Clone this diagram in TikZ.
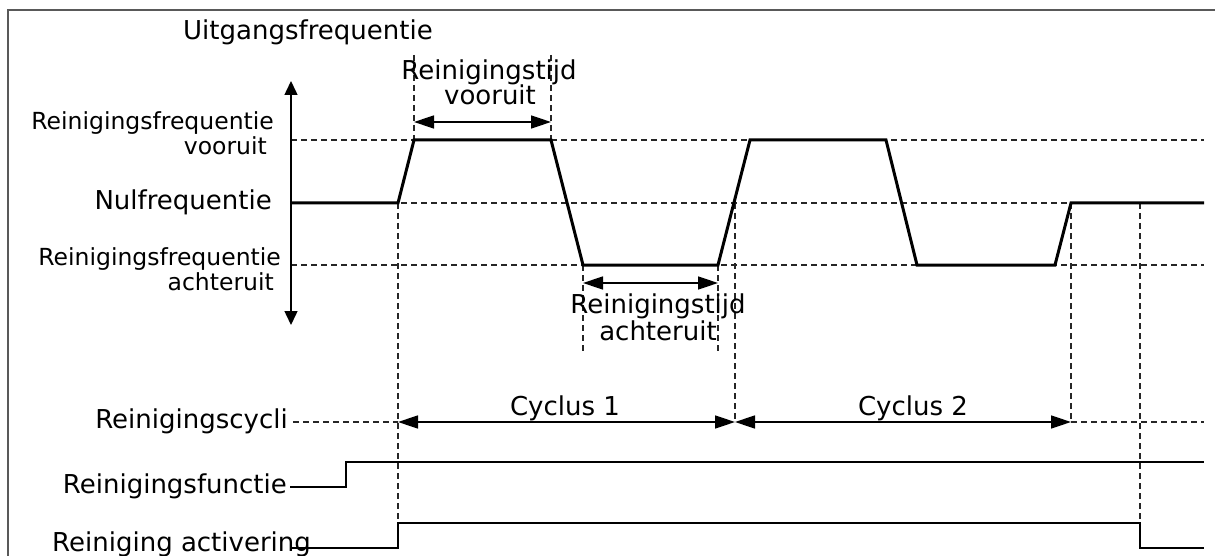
\documentclass[tikz,border=0pt]{standalone}
\usepackage{fontspec}
\setmainfont{DejaVu Sans}
\usetikzlibrary{arrows.meta}
\begin{document}
\begin{tikzpicture}[x=1pt,y=-1pt,
  sig/.style={line width=3pt, line join=miter},
  lvl/.style={line width=2.6pt, line join=miter},
  guide/.style={line width=1.3pt, dash pattern=on 6pt off 4pt, black!85},
  dimarrow/.style={line width=1.5pt, {Triangle[length=20pt,width=13pt]}-{Triangle[length=20pt,width=13pt]}},
  axisarrow/.style={line width=1.5pt, {Triangle[length=14pt,width=13pt]}-{Triangle[length=14pt,width=13pt]}},
  lbl/.style={inner sep=0pt, font=\fontsize{26}{27}\selectfont},
  slbl/.style={inner sep=0pt, font=\fontsize{23.5}{25}\selectfont},
]
\useasboundingbox (0,0) rectangle (1215,556);
\fill[white] (0,0) rectangle (1215,556);
% frame
\coordinate (fbl) at (8,580);
\coordinate (ftl) at (8,10);
\coordinate (ftr) at (1240,10);
\draw[line width=2pt, black!65] (fbl) -- (ftl) -- (ftr);

% signal points
\coordinate (s0) at (291,203);
\coordinate (s1) at (398,203);
\coordinate (s2) at (414,140);
\coordinate (s3) at (551,140);
\coordinate (s4) at (583,265);
\coordinate (s5) at (718,265);
\coordinate (s6) at (750,140);
\coordinate (s7) at (886,140);
\coordinate (s8) at (917,265);
\coordinate (s9) at (1055,265);
\coordinate (s10) at (1071,203);
\coordinate (s11) at (1204,203);

% horizontal guides
\coordinate (hv0) at (291,140); \coordinate (hv1) at (1204,140);
\coordinate (hz0) at (291,203); \coordinate (hz1) at (1204,203);
\coordinate (ha0) at (291,265); \coordinate (ha1) at (1204,265);
\draw[guide] (hv0) -- (hv1);
\draw[guide] (hz0) -- (hz1);
\draw[guide] (ha0) -- (ha1);

% vertical guides
\coordinate (v1a) at (398,203);  \coordinate (v1b) at (398,523);
\coordinate (v2a) at (414,55);   \coordinate (v2b) at (414,140);
\coordinate (v3a) at (551,55);   \coordinate (v3b) at (551,140);
\coordinate (v4a) at (583,265);  \coordinate (v4b) at (583,352);
\coordinate (v5a) at (718,265);  \coordinate (v5b) at (718,352);
\coordinate (v6a) at (735,203);  \coordinate (v6b) at (735,422);
\coordinate (v7a) at (1071,203); \coordinate (v7b) at (1071,422);
\coordinate (v8a) at (1140,203); \coordinate (v8b) at (1140,523);
\draw[guide] (v1a) -- (v1b);
\draw[guide] (v2a) -- (v2b);
\draw[guide] (v3a) -- (v3b);
\draw[guide] (v4a) -- (v4b);
\draw[guide] (v5a) -- (v5b);
\draw[guide] (v6a) -- (v6b);
\draw[guide] (v7a) -- (v7b);
\draw[guide] (v8a) -- (v8b);

% output frequency signal
\draw[sig] (s0) -- (s1) -- (s2) -- (s3) -- (s4) -- (s5) -- (s6) -- (s7) -- (s8) -- (s9) -- (s10) -- (s11);

% axis arrow
\coordinate (ax1) at (291,81);
\coordinate (ax2) at (291,325);
\draw[axisarrow] (ax1) -- (ax2);

% time dimension arrows
\coordinate (tv1) at (414,122); \coordinate (tv2) at (551,122);
\coordinate (ta1) at (583,283); \coordinate (ta2) at (718,283);
\draw[dimarrow] (tv1) -- (tv2);
\draw[dimarrow] (ta1) -- (ta2);

% cycles row
\coordinate (c0) at (293,422);
\coordinate (c1) at (398,422);
\coordinate (c2) at (735,422);
\coordinate (c3) at (1071,422);
\coordinate (c4) at (1204,422);
\draw[guide] (c0) -- (c1);
\draw[dimarrow] (c1) -- (c2);
\draw[dimarrow] (c2) -- (c3);
\draw[guide] (c3) -- (c4);

% cleaning function
\coordinate (f0) at (290,487);
\coordinate (f1) at (346,487);
\coordinate (f2) at (346,462);
\coordinate (f3) at (1204,462);
\draw[lvl] (f0) -- (f1) -- (f2) -- (f3);

% cleaning activation
\coordinate (a0) at (292,548);
\coordinate (a1) at (398,548);
\coordinate (a2) at (398,523);
\coordinate (a3) at (1140,523);
\coordinate (a4) at (1140,548);
\coordinate (a5) at (1204,548);
\draw[lvl] (a0) -- (a1) -- (a2) -- (a3) -- (a4) -- (a5);

% labels
\node[lbl, anchor=base west] (title) at (183,40) {Uitgangsfrequentie};
\node[slbl, anchor=base east] (rfv1) at (274,130) {Reinigingsfrequentie};
\node[slbl, anchor=base east] (rfv2) at (267,155) {vooruit};
\node[lbl, anchor=base east] (nul) at (272,210) {Nulfrequentie};
\node[slbl, anchor=base east] (rfa1) at (281,265) {Reinigingsfrequentie};
\node[slbl, anchor=base east] (rfa2) at (274,290) {achteruit};
\node[lbl, anchor=base] (rtv1) at (489,80) {Reinigingstijd};
\node[lbl, anchor=base] (rtv2) at (490,105) {vooruit};
\node[lbl, anchor=base] (rta1) at (658,313) {Reinigingstijd};
\node[lbl, anchor=base] (rta2) at (658,340) {achteruit};
\node[lbl, anchor=base east] (cycli) at (288,428) {Reinigingscycli};
\node[lbl, anchor=base] (cyc1) at (565,415) {Cyclus 1};
\node[lbl, anchor=base] (cyc2) at (913,415) {Cyclus 2};
\node[lbl, anchor=base east] (func) at (287,493) {Reinigingsfunctie};
\node[lbl, anchor=base west] (act) at (52,551) {Reiniging activering};
\end{tikzpicture}
\end{document}
